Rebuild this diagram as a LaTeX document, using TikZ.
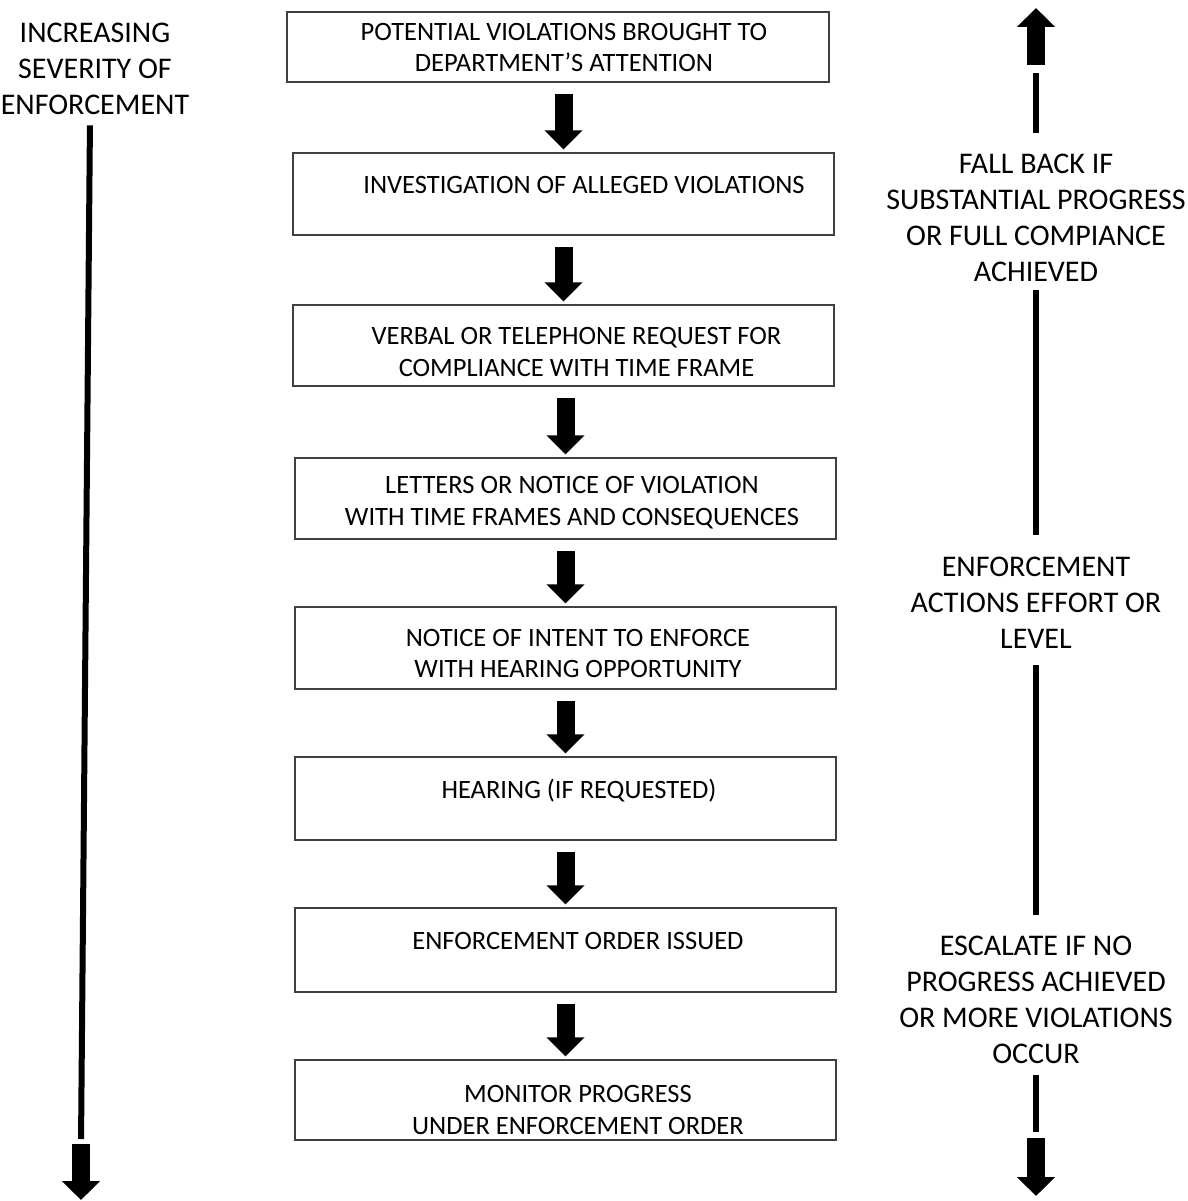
\documentclass[tikz,border=0pt]{standalone}
\usepackage{fontspec}
\setmainfont{Carlito}
\usetikzlibrary{arrows.meta,positioning}

\begin{document}
\begin{tikzpicture}[x=1pt,y=-1pt,
   stage/.style={draw=black!75,line width=1.2pt,minimum width=541pt,minimum height=81pt,inner sep=0pt},
   stagetext/.style={align=center,font=\fontsize{26.5}{31.5}\selectfont},
   sidetext/.style={align=center,font=\fontsize{30}{36}\selectfont},
   bigarrow/.style={line width=18pt,-{Triangle[width=37pt,length=19pt]}},
   rail/.style={line width=6pt}]
\useasboundingbox (0,0) rectangle (1187,1201);
% the stages
\node[stage,minimum width=542pt,minimum height=70pt] (potential) at (558,47) {};
\node[stage,minimum height=82pt] (investigation) at (563.5,194) {};
\node[stage] (request) at (563.5,345.5) {};
\node[stage] (letters) at (565.5,498.5) {};
\node[stage,minimum height=82pt] (intent) at (565.5,648) {};
\node[stage,minimum height=83pt] (hearing) at (565.5,798.5) {};
\node[stage,minimum height=84pt] (order) at (565.5,950) {};
\node[stage,minimum height=80pt] (monitor) at (565.5,1100) {};
\node[stagetext] (potentialtext) at (564,47.5) {POTENTIAL VIOLATIONS BROUGHT TO\\DEPARTMENT’S ATTENTION};
\node[stagetext] (investigationtext) at (584,185) {INVESTIGATION OF ALLEGED VIOLATIONS};
\node[stagetext] (requesttext) at (576.5,352) {VERBAL OR TELEPHONE REQUEST FOR\\COMPLIANCE WITH TIME FRAME};
\node[stagetext] (letterstext) at (572,502.5) {LETTERS OR NOTICE OF VIOLATION\\WITH TIME FRAMES AND CONSEQUENCES};
\node[stagetext] (intenttext) at (578,653.5) {NOTICE OF INTENT TO ENFORCE\\WITH HEARING OPPORTUNITY};
\node[stagetext] (hearingtext) at (579,791) {HEARING (IF REQUESTED)};
\node[stagetext] (ordertext) at (578,941) {ENFORCEMENT ORDER ISSUED};
\node[stagetext] (monitortext) at (578,1110) {MONITOR PROGRESS\\UNDER ENFORCEMENT ORDER};
\foreach \a/\b in {potential/investigation,investigation/request,request/letters,
   letters/intent,intent/hearing,hearing/order,order/monitor}
   \draw[bigarrow,shorten <=11pt,shorten >=3pt] (\a.south -| \b.north) -- (\b.north);
% left side
\node[sidetext] (severity) at (95,69) {INCREASING\\SEVERITY OF\\ENFORCEMENT};
\coordinate (sevbase) at (81,1144);
\coordinate (sevtip) at (81,1200);
\draw[rail,shorten <=7pt,shorten >=5pt] ([xshift=-5pt]severity.south) -- (sevbase);
\draw[bigarrow] (sevbase) -- (sevtip);
% right side
\node[sidetext] (fallback) at (1036,218) {FALL BACK IF\\SUBSTANTIAL PROGRESS\\OR FULL COMPIANCE\\ACHIEVED};
\node[sidetext] (effort) at (1036,603) {ENFORCEMENT\\ACTIONS EFFORT OR\\LEVEL};
\node[sidetext] (escalate) at (1036,999.5) {ESCALATE IF NO\\PROGRESS ACHIEVED\\OR MORE VIOLATIONS\\OCCUR};
\coordinate (risebase) at (1036,65);
\coordinate (risetip) at (1036,8);
\coordinate (dropbase) at (1036,1138);
\coordinate (droptip) at (1036,1196);
\draw[bigarrow] (risebase) -- (risetip);
\draw[rail,shorten <=18pt,shorten >=8pt] (fallback.north) -- (risebase);
\draw[rail,shorten <=5pt,shorten >=19pt] (fallback.south) -- (effort.north);
\draw[rail,shorten <=13pt,shorten >=17pt] (effort.south) -- (escalate.north);
\draw[rail,shorten <=8pt,shorten >=6pt] (escalate.south) -- (dropbase);
\draw[bigarrow] (dropbase) -- (droptip);
\end{tikzpicture}
\end{document}
